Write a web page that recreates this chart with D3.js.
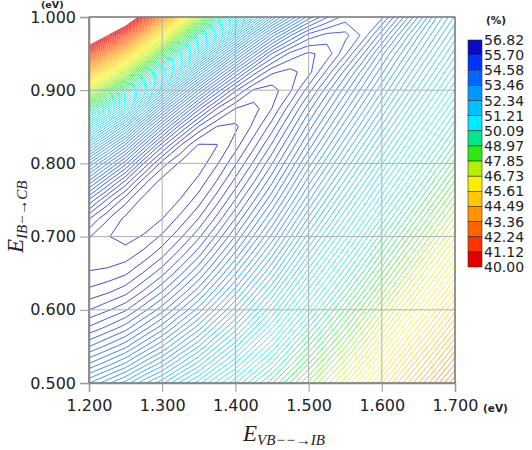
<!DOCTYPE html>
<html><head><meta charset="utf-8">
<script src="https://cdn.jsdelivr.net/npm/d3@7"></script>
<style>body{margin:0;background:#fff} svg{display:block}</style>
</head><body>
<svg id="chart" width="532" height="450"></svg>
<script>
// x: E(VB->IB) grid (eV), y: E(IB->CB) grid (eV)
const xValues = [1.200,1.225,1.250,1.275,1.300,1.325,1.350,1.375,1.400,1.425,1.450,1.475,1.500,1.525,1.550,1.575,1.600,1.625,1.650,1.675,1.700];
const yValues = [0.500,0.525,0.550,0.575,0.600,0.625,0.650,0.675,0.700,0.725,0.750,0.775,0.800,0.825,0.850,0.875,0.900,0.925,0.950,0.975,1.000];
// efficiency (%) — one row per yValue, one column per xValue
const efficiency = [
 [53.65,53.33,53.00,52.57,52.20,51.72,51.30,50.77,50.30,49.72,49.20,48.57,47.98,47.36,46.76,46.10,45.44,44.77,44.12,43.46,42.80],
 [54.35,54.07,53.76,53.34,52.96,52.48,52.03,51.48,50.98,50.39,49.84,49.19,48.57,47.94,47.32,46.66,45.99,45.32,44.67,44.01,43.34],
 [54.96,54.71,54.44,54.04,53.65,53.17,52.71,52.15,51.63,51.02,50.45,49.78,49.15,48.51,47.88,47.21,46.54,45.86,45.20,44.54,43.88],
 [55.47,55.27,55.03,54.66,54.28,53.81,53.34,52.78,52.24,51.63,51.04,50.36,49.71,49.06,48.42,47.75,47.07,46.39,45.73,45.07,44.41],
 [55.89,55.73,55.54,55.20,54.84,54.39,53.93,53.37,52.81,52.20,51.60,50.91,50.25,49.59,48.94,48.27,47.59,46.92,46.26,45.60,44.93],
 [56.21,56.11,55.96,55.67,55.33,54.91,54.46,53.91,53.35,52.74,52.13,51.44,50.77,50.11,49.46,48.79,48.11,47.43,46.77,46.11,45.45],
 [56.43,56.39,56.29,56.05,55.76,55.37,54.94,54.41,53.85,53.25,52.64,51.95,51.27,50.61,49.96,49.29,48.61,47.94,47.27,46.62,45.95],
 [56.55,56.58,56.54,56.37,56.12,55.77,55.37,54.86,54.32,53.73,53.12,52.44,51.76,51.10,50.45,49.78,49.10,48.43,47.77,47.11,46.45],
 [56.43,56.62,56.71,56.61,56.41,56.11,55.74,55.27,54.75,54.18,53.58,52.91,52.23,51.58,50.93,50.26,49.59,48.92,48.26,47.61,46.95],
 [56.05,56.42,56.68,56.77,56.64,56.39,56.07,55.64,55.14,54.59,54.01,53.35,52.68,52.04,51.39,50.73,50.06,49.40,48.74,48.09,47.43],
 [55.35,55.92,56.38,56.71,56.80,56.62,56.35,55.96,55.50,54.98,54.42,53.78,53.12,52.48,51.84,51.19,50.53,49.87,49.21,48.56,47.91],
 [54.45,55.14,55.76,56.38,56.72,56.79,56.57,56.24,55.82,55.34,54.80,54.18,53.53,52.91,52.28,51.64,50.98,50.33,49.68,49.03,48.38],
 [53.45,54.18,54.89,55.71,56.35,56.68,56.75,56.47,56.10,55.66,55.15,54.56,53.93,53.33,52.71,52.08,51.43,50.78,50.13,49.49,48.85],
 [52.25,53.09,53.88,54.79,55.62,56.25,56.66,56.64,56.35,55.95,55.48,54.92,54.32,53.73,53.12,52.50,51.86,51.22,50.58,49.95,49.30],
 [50.85,51.78,52.69,53.75,54.65,55.46,56.10,56.46,56.49,56.21,55.79,55.26,54.68,54.11,53.52,52.92,52.29,51.66,51.02,50.39,49.75],
 [49.15,50.23,51.28,52.49,53.55,54.45,55.26,55.89,56.26,56.34,56.07,55.59,55.03,54.48,53.91,53.32,52.71,52.08,51.45,50.83,50.20],
 [47.05,48.32,49.57,51.00,52.22,53.29,54.22,55.01,55.66,56.10,56.16,55.92,55.41,54.85,54.29,53.71,53.11,52.50,51.88,51.26,50.63],
 [44.45,45.94,47.44,49.16,50.63,51.90,53.00,53.93,54.73,55.41,55.85,55.95,55.78,55.28,54.70,54.10,53.51,52.90,52.29,51.68,51.06],
 [41.45,43.10,44.79,46.86,48.66,50.21,51.54,52.66,53.62,54.43,55.14,55.57,55.73,55.64,55.18,54.58,53.90,53.30,52.70,52.09,51.48],
 [38.15,39.90,41.71,44.03,46.19,48.12,49.77,51.13,52.28,53.28,54.11,54.74,55.22,55.39,55.39,55.08,54.45,53.75,53.10,52.50,51.89],
 [34.55,36.38,38.29,40.78,43.20,45.48,47.54,49.26,50.66,51.86,52.89,53.63,54.29,54.74,55.04,55.12,55.00,54.34,53.63,52.90,52.30]
];
const xTickLabels = ["1.200","1.300","1.400","1.500","1.600","1.700"];
const yTickLabels = ["0.500","0.600","0.700","0.800","0.900","1.000"];
const legendLabels = ["56.82","55.70","54.58","53.46","52.34","51.21","50.09","48.97","47.85","46.73","45.61","44.49","43.36","42.24","41.12","40.00"];
// colours of the 15 legend bins, top (high) to bottom (low)
const legendColors = ["#0a0ac4","#0033ff","#0066ff","#0096ff","#00c0ff","#00ebff","#00e68c","#28eb14","#b4f000","#faf000","#ffc800","#ff9600","#ff6400","#ff3200","#e10000"];
const linesPerBin = 6;

const P = {l: 89, r: 455, t: 17, b: 383};
const svg = d3.select("#chart");
const x = d3.scaleLinear().domain([1.2, 1.7]).range([P.l, P.r]);
const y = d3.scaleLinear().domain([0.5, 1.0]).range([P.b, P.t]);

const vMax = +legendLabels[0], vMin = +legendLabels[legendLabels.length - 1];
const nBins = legendColors.length;
const binW = (vMax - vMin) / nBins;
const thresholds = d3.range(0, nBins * linesPerBin + 1).map(k => vMin + k * binW / linesPerBin);

const centers = d3.range(nBins).map(i => vMin + (i + 0.5) * binW);
const colorsLowHigh = legendColors.slice().reverse();
const color = d3.scaleLinear().domain(centers).range(colorsLowHigh).interpolate(d3.interpolateRgb).clamp(true);

const nx = xValues.length, ny = yValues.length;
const flat = [];
for (let j = 0; j < ny; j++) for (let i = 0; i < nx; i++) flat.push(efficiency[j][i]);
const dxs = xValues[1] - xValues[0], dys = yValues[1] - yValues[0];
const contours = d3.contours().size([nx, ny]).thresholds(thresholds)(flat);
const proj = d3.geoTransform({
  point(px, py) {
    this.stream.point(x(xValues[0] + (px - 0.5) * dxs), y(yValues[0] + (py - 0.5) * dys));
  }
});
const path = d3.geoPath(proj);

svg.append("defs").append("clipPath").attr("id", "clip")
  .append("rect").attr("x", P.l).attr("y", P.t).attr("width", P.r - P.l).attr("height", P.b - P.t);

svg.append("g").attr("clip-path", "url(#clip)")
  .selectAll("path").data(contours).join("path")
  .attr("d", path)
  .attr("fill", "none")
  .attr("stroke", d => color(d.value))
  .attr("stroke-width", 0.75);

// grid
const gx = [1.2,1.3,1.4,1.5,1.6,1.7], gy = [0.5,0.6,0.7,0.8,0.9,1.0];
const grid = svg.append("g").attr("stroke", "#b0b0b0").attr("stroke-width", 1);
gx.forEach(v => grid.append("line").attr("x1", x(v)).attr("x2", x(v)).attr("y1", P.t).attr("y2", P.b));
gy.forEach(v => grid.append("line").attr("y1", y(v)).attr("y2", y(v)).attr("x1", P.l).attr("x2", P.r));

// frame
svg.append("rect").attr("x", P.l).attr("y", P.t).attr("width", P.r - P.l).attr("height", P.b - P.t)
  .attr("fill", "none").attr("stroke", "#555").attr("stroke-width", 1);

// axes
const xAxis = d3.axisBottom(x).tickValues(gx).tickFormat((d, i) => xTickLabels[i]).tickSize(9).tickPadding(8);
const yAxis = d3.axisLeft(y).tickValues(gy).tickFormat((d, i) => yTickLabels[i]).tickSize(9).tickPadding(4);
const ax = svg.append("g").attr("transform", `translate(0,${P.b})`).call(xAxis);
const ay = svg.append("g").attr("transform", `translate(${P.l},0)`).call(yAxis);
[ax, ay].forEach(g => {
  g.select(".domain").attr("stroke", "#888").attr("stroke-width", 1.5);
  g.selectAll(".tick line").attr("stroke", "#999");
  g.selectAll(".tick text").attr("font-family", "DejaVu Sans").attr("font-size", 16).attr("fill", "#222");
});

// units
const unit = (tx, ty, t, fs) => svg.append("text").attr("x", tx).attr("y", ty).text(t)
  .attr("font-family", "DejaVu Sans").attr("font-weight", "bold").attr("font-size", fs).attr("fill", "#222");
unit(41, 8, "(eV)", 9.5);
unit(483, 412, "(eV)", 10.5);
unit(486, 24, "(%)", 10.5);

// axis titles
const xt = svg.append("text").attr("x", 243).attr("y", 441)
  .attr("font-family", "Liberation Serif").attr("font-style", "italic").attr("fill", "#222");
xt.append("tspan").attr("font-size", 23).text("E");
xt.append("tspan").attr("font-size", 15).attr("dy", 4).text("VB−−→IB");

const yt = svg.append("text").attr("transform", "translate(23,253) rotate(-90)")
  .attr("font-family", "Liberation Serif").attr("font-style", "italic").attr("fill", "#222");
yt.append("tspan").attr("font-size", 23).text("E");
yt.append("tspan").attr("font-size", 15).attr("dy", 4).text("IB−→CB");

// colour bar
const cb = {x: 468, y: 40, w: 14, h: 227};
const bh = cb.h / nBins;
const leg = svg.append("g");
leg.selectAll("rect").data(legendColors).join("rect")
  .attr("x", cb.x).attr("y", (d, i) => cb.y + i * bh).attr("width", cb.w).attr("height", bh)
  .attr("fill", d => d).attr("stroke", "#333").attr("stroke-width", 0.6);
leg.selectAll("text").data(legendLabels).join("text")
  .attr("x", cb.x + 16).attr("y", (d, i) => cb.y + i * bh + 5)
  .attr("font-family", "DejaVu Sans").attr("font-size", 14).attr("fill", "#222")
  .text(d => d);
</script>
</body></html>
